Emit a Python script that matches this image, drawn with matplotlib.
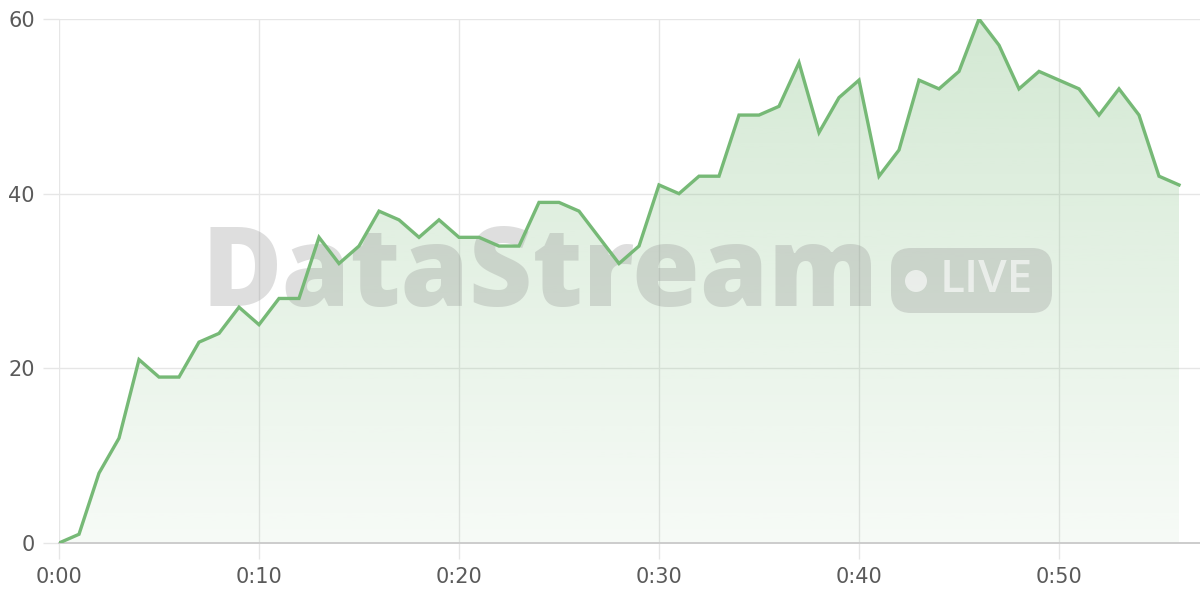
import numpy as np
import matplotlib.pyplot as plt
from matplotlib.patches import FancyBboxPatch, Circle, Polygon

# minutes since start and viewer count
minutes = list(range(57))
viewers = [0, 1, 8, 12, 21, 19, 19, 23, 24, 27,
           25, 28, 28, 35, 32, 34, 38, 37, 35, 37,
           35, 35, 34, 34, 39, 39, 38, 35, 32, 34,
           41, 40, 42, 42, 49, 49, 50, 55, 47, 51,
           53, 42, 45, 53, 52, 54, 60, 57, 52, 54,
           53, 52, 49, 52, 49, 42, 41]
xticks = [0, 10, 20, 30, 40, 50]
xtick_labels = ["0:00", "0:10", "0:20", "0:30", "0:40", "0:50"]
yticks = [0, 20, 40, 60]

line_col = "#76b976"
grid_col = "#e6e6e6"
txt_col = "#5a5a5a"

fig = plt.figure(figsize=(12, 6), dpi=100)
ax = fig.add_axes([59 / 1200, 57 / 600, 1141 / 1200, 524 / 600])
ax.set_xlim(0, 57.05)
ax.set_ylim(0, 60)

# gradient fill under the line
grad = np.zeros((256, 1, 4))
grad[:, 0, 0] = 118 / 255
grad[:, 0, 1] = 185 / 255
grad[:, 0, 2] = 118 / 255
grad[:, 0, 3] = np.linspace(0.32, 0.06, 256)
im = ax.imshow(grad, aspect="auto", extent=(0, 56, 0, 60), origin="upper", zorder=1)
verts = [(0, 0)] + list(zip(minutes, viewers)) + [(56, 0)]
poly = Polygon(verts, closed=True, facecolor="none", edgecolor="none")
ax.add_patch(poly)
im.set_clip_path(poly)

ax.plot(minutes, viewers, color=line_col, lw=2.4, zorder=5, solid_joinstyle="miter")

# grid / axes
for s in ["top", "right", "left"]:
    ax.spines[s].set_visible(False)
ax.spines["bottom"].set_color("#cccccc")
ax.spines["bottom"].set_linewidth(1.4)
ax.set_xticks(xticks)
ax.set_xticklabels(xtick_labels)
ax.set_yticks(yticks)
ax.grid(True, color=grid_col, lw=1.0, zorder=0)
ax.set_axisbelow(True)
ax.tick_params(axis="both", colors=grid_col, labelcolor=txt_col, labelsize=15,
               length=11.5, width=1.0)
ax.tick_params(axis="x", pad=6)
ax.tick_params(axis="y", pad=6)

# watermark (pixel coords via inches, origin bottom-left), under the line
px = fig.dpi_scale_trans
def P(x, y):
    return (x / 100, (600 - y) / 100)

ax.text(*P(540, 277), "DataStream", transform=px, fontsize=79, fontweight="heavy",
        family="Open Sans", color="#8a8a8a", alpha=0.28, ha="center", va="center",
        zorder=3, clip_on=False)
badge = FancyBboxPatch(P(891, 313), 1.61, 0.65,
                       boxstyle="round,pad=0,rounding_size=0.2",
                       transform=px, facecolor="#8a8a8a", alpha=0.28,
                       edgecolor="none", zorder=3, clip_on=False)
ax.add_artist(badge)
ax.add_artist(Circle(P(916, 281), 0.11, transform=px, facecolor="white", alpha=0.6,
                     edgecolor="none", zorder=3, clip_on=False))
ax.text(*P(986, 280), "LIVE", transform=px, fontsize=33, fontweight="semibold",
        color="white", alpha=0.6, ha="center", va="center", family="Open Sans",
        zorder=3, clip_on=False)

fig.savefig("out.png", dpi=100, facecolor="white")
